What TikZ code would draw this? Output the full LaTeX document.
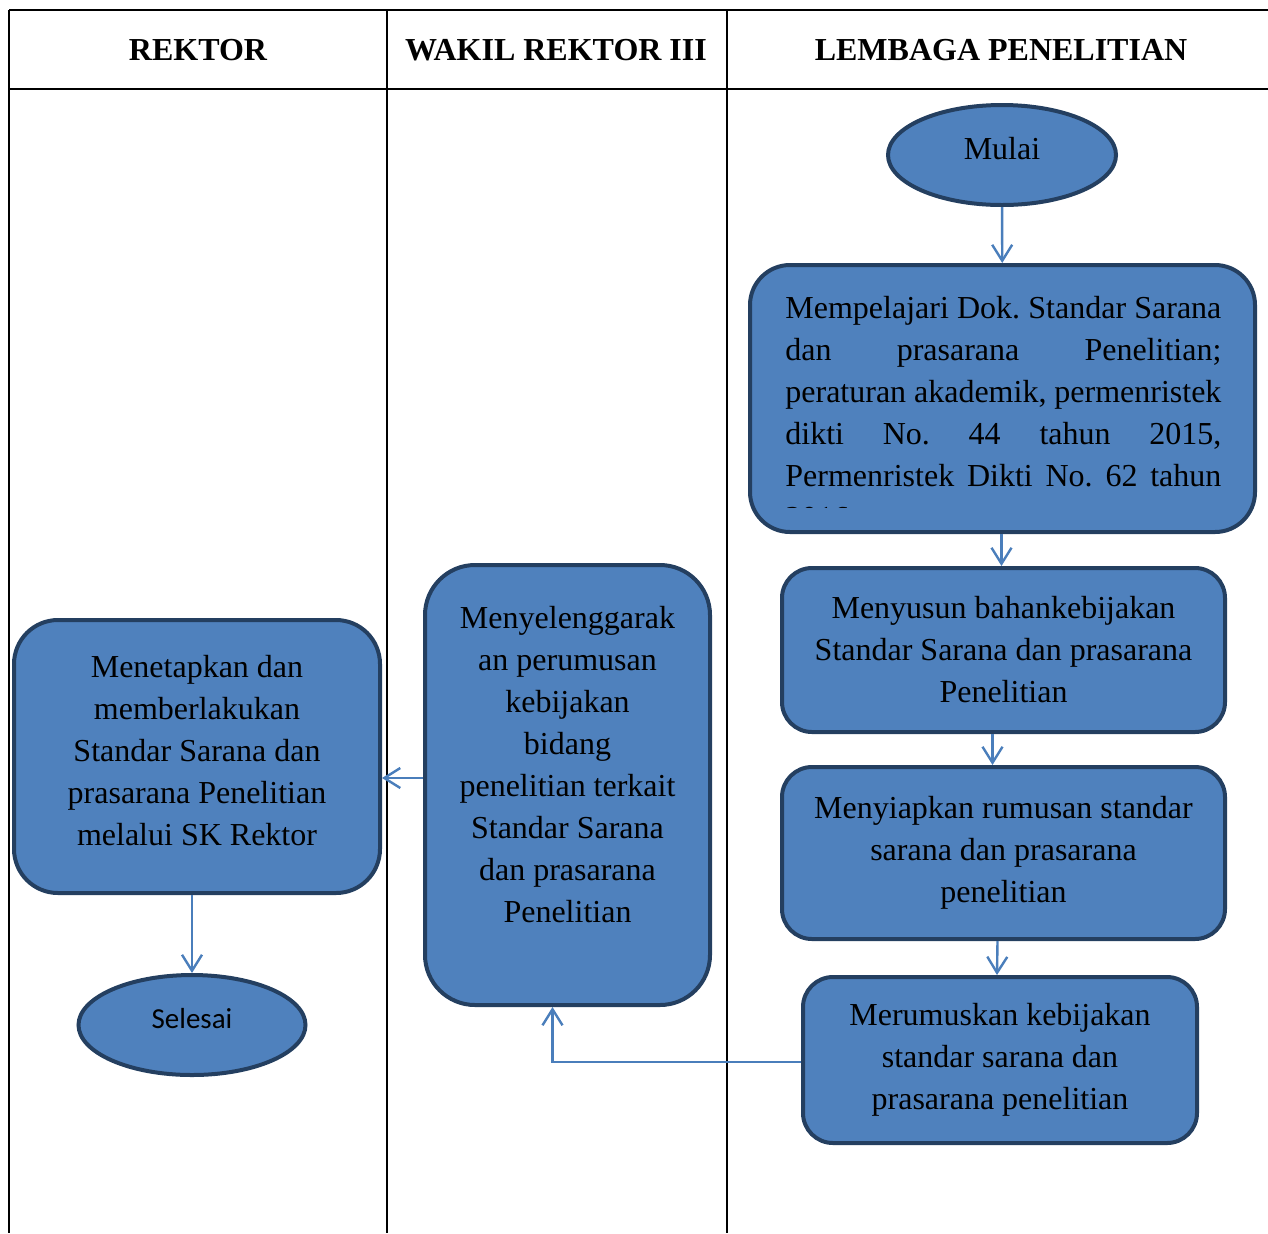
\documentclass[tikz,border=0pt]{standalone}
\usepackage{fontspec}
\setmainfont{Liberation Serif}
\newfontfamily\calibri{Carlito}
\usetikzlibrary{arrows.meta,shapes.geometric}
\frenchspacing

\definecolor{boxfill}{HTML}{4F81BD}
\definecolor{boxline}{HTML}{243F60}
\definecolor{arrline}{HTML}{4A7EBB}

\begin{document}
\begin{tikzpicture}[x=0.5pt,y=-0.5pt,
  box/.style={draw=boxline, line width=2pt, fill=boxfill, rounded corners=15pt,
    align=center, font=\fontsize{16}{21}\selectfont, inner sep=0pt},
  oval/.style={draw=boxline, line width=2pt, fill=boxfill, ellipse, inner sep=0pt},
  arr/.style={draw=arrline, line width=1.2pt, -{Straight Barb[length=8pt,width=10pt,line width=1.2pt]}},
  head/.style={font=\fontsize{16}{18}\selectfont\bfseries}]
\useasboundingbox (0,0) rectangle (1268,1233);

% table
\draw[line width=1.2pt] (9,10) -- (1268,10);
\draw[line width=1.3pt] (9,89) -- (1268,89);
\draw[line width=1.2pt] (9,10) -- (9,1233);
\draw[line width=1.2pt] (387,10) -- (387,1233);
\draw[line width=1.2pt] (727,10) -- (727,1233);

\node[head] (h1) at (198,50) {REKTOR};
\node[head] (h2) at (556,50) {WAKIL REKTOR III};
\node[head] (h3) at (1001,50) {LEMBAGA PENELITIAN};

% lembaga penelitian
\node[oval, minimum width=114pt, minimum height=50pt] (mulai) at (1002,155) {};
\node[font=\fontsize{16}{18}\selectfont] (tmulai) at (1002,149) {Mulai};

\node[box, rounded corners=20pt, minimum width=252.5pt, minimum height=133.5pt] (pelajari) at (1002.5,398.5) {};
\begin{scope}
\clip (750,265) rectangle (1255,507.5);
\node[anchor=north west, inner sep=0pt, text width=218pt, align=justify,
  font=\fontsize{16}{21}\selectfont] (tpelajari) at (785,296)
  {Mempelajari Dok. Standar Sarana\linebreak dan prasarana Penelitian;\linebreak
   peraturan akademik, permenristek\linebreak dikti No. 44 tahun 2015,\linebreak
   Permenristek Dikti No. 62 tahun\linebreak 2016.};
\end{scope}

\node[box, minimum width=221.5pt, minimum height=82pt] (susun) at (1003.5,650)
  {Menyusun bahankebijakan\\Standar Sarana dan prasarana\\Penelitian};
\node[box, minimum width=221.5pt, minimum height=86pt] (siapkan) at (1003.5,853)
  {Menyiapkan rumusan standar\\sarana dan prasarana\\penelitian};
\node[box, minimum width=197pt, minimum height=83pt] (rumus) at (1000,1060)
  {Merumuskan kebijakan\\standar sarana dan\\prasarana penelitian};

% wakil rektor III
\node[box, rounded corners=25pt, minimum width=142.5pt, minimum height=220pt] (wr) at (567.5,785)
  {Menyelenggarak\\an perumusan\\kebijakan\\bidang\\penelitian terkait\\Standar Sarana\\dan prasarana\\Penelitian\\~};

% rektor
\node[box, rounded corners=22pt, minimum width=183pt, minimum height=136.5pt] (rektor) at (197,756.5)
  {Menetapkan dan\\memberlakukan\\Standar Sarana dan\\prasarana Penelitian\\melalui SK Rektor\\[-15pt]~};
\node[oval, minimum width=113.5pt, minimum height=50pt] (selesai) at (192,1025) {};
\node[font=\calibri\fontsize{14.5}{16}\selectfont] (tselesai) at (192,1019) {Selesai};

% arrows
\draw[arr] (mulai) -- (pelajari);
\draw[arr] ([xshift=-0.5pt]pelajari.south) -- ([xshift=-1pt]susun.north);
\draw[arr] ([xshift=-5.5pt]susun.south) -- ([xshift=-5.5pt]siapkan.north);
\draw[arr] ([xshift=-3pt]siapkan.south) -- ([xshift=-1.5pt]rumus.north);
\draw[arr] ([yshift=-1pt]rumus.west) -| ([xshift=-7.5pt]wr.south);
\draw[arr] ([yshift=3.5pt]wr.west) -- ([yshift=3.5pt]wr.west -| rektor.east);
\draw[arr] ([xshift=-2.5pt]rektor.south) -- (selesai.north);
\end{tikzpicture}
\end{document}
